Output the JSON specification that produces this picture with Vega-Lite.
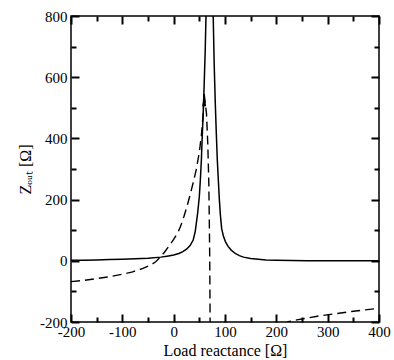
{
  "$schema": "https://vega.github.io/schema/vega-lite/v6.json",
  "width": 308,
  "height": 306,
  "autosize": {"type": "none"},
  "padding": {"left": 71, "top": 16, "right": 15, "bottom": 38},
  "background": "white",
  "config": {
    "view": {"stroke": "black", "strokeWidth": 1.5},
    "font": "Liberation Serif",
    "axis": {
      "grid": false,
      "domain": false,
      "ticks": true,
      "zindex": 2,
      "labelFont": "Liberation Serif",
      "labelFontSize": 15,
      "labelColor": "black",
      "titleFont": "Liberation Serif",
      "titleFontSize": 16,
      "titleFontWeight": "normal",
      "titleColor": "black",
      "tickColor": "#000000",
      "tickOpacity": 1,
      "tickWidth": 2,
      "labelOverlap": false,
      "labelFlush": false
    }
  },
  "datasets": {
    "curves": [
      {"x": -200, "y": 1.5, "s": "R"}, {"x": -175, "y": 2, "s": "R"}, {"x": -150, "y": 3, "s": "R"},
      {"x": -125, "y": 4, "s": "R"}, {"x": -100, "y": 5, "s": "R"}, {"x": -75, "y": 6.5, "s": "R"},
      {"x": -50, "y": 8.5, "s": "R"}, {"x": -25, "y": 12, "s": "R"}, {"x": -10, "y": 16, "s": "R"},
      {"x": 0, "y": 19, "s": "R"}, {"x": 10, "y": 24, "s": "R"}, {"x": 18, "y": 30, "s": "R"},
      {"x": 25, "y": 38, "s": "R"}, {"x": 32, "y": 50, "s": "R"}, {"x": 38, "y": 68, "s": "R"},
      {"x": 42, "y": 95, "s": "R"}, {"x": 47, "y": 160, "s": "R"}, {"x": 50, "y": 210, "s": "R"},
      {"x": 52, "y": 265, "s": "R"}, {"x": 54, "y": 330, "s": "R"}, {"x": 55.5, "y": 400, "s": "R"},
      {"x": 57.5, "y": 480, "s": "R"}, {"x": 59.5, "y": 580, "s": "R"}, {"x": 61.5, "y": 690, "s": "R"},
      {"x": 63, "y": 800, "s": "R"}, {"x": 66, "y": 1000, "s": "R"}, {"x": 70, "y": 1200, "s": "R"},
      {"x": 74, "y": 1000, "s": "R"}, {"x": 77, "y": 800, "s": "R"}, {"x": 79, "y": 640, "s": "R"},
      {"x": 81, "y": 520, "s": "R"}, {"x": 83, "y": 420, "s": "R"}, {"x": 85, "y": 330, "s": "R"},
      {"x": 87, "y": 265, "s": "R"}, {"x": 89, "y": 200, "s": "R"}, {"x": 91, "y": 150, "s": "R"},
      {"x": 93.5, "y": 105, "s": "R"}, {"x": 97, "y": 80, "s": "R"}, {"x": 101, "y": 62, "s": "R"},
      {"x": 106, "y": 47, "s": "R"}, {"x": 112, "y": 35, "s": "R"}, {"x": 120, "y": 24, "s": "R"},
      {"x": 128, "y": 17, "s": "R"}, {"x": 136, "y": 12, "s": "R"}, {"x": 150, "y": 7.5, "s": "R"},
      {"x": 165, "y": 5, "s": "R"}, {"x": 180, "y": 3, "s": "R"}, {"x": 200, "y": 2, "s": "R"},
      {"x": 230, "y": 1, "s": "R"}, {"x": 260, "y": 0.3, "s": "R"}, {"x": 300, "y": 0, "s": "R"},
      {"x": 400, "y": 0, "s": "R"},
      {"x": -200, "y": -68, "s": "X", "p": "a"}, {"x": -175, "y": -64, "s": "X", "p": "a"},
      {"x": -150, "y": -58, "s": "X", "p": "a"}, {"x": -125, "y": -52, "s": "X", "p": "a"},
      {"x": -100, "y": -44, "s": "X", "p": "a"}, {"x": -80, "y": -36, "s": "X", "p": "a"},
      {"x": -60, "y": -25, "s": "X", "p": "a"}, {"x": -45, "y": -14, "s": "X", "p": "a"},
      {"x": -35, "y": -3, "s": "X", "p": "a"}, {"x": -27, "y": 10, "s": "X", "p": "a"},
      {"x": -18, "y": 28, "s": "X", "p": "a"}, {"x": -10, "y": 46, "s": "X", "p": "a"},
      {"x": 0, "y": 70, "s": "X", "p": "a"}, {"x": 8, "y": 92, "s": "X", "p": "a"},
      {"x": 14, "y": 115, "s": "X", "p": "a"}, {"x": 20, "y": 145, "s": "X", "p": "a"},
      {"x": 26, "y": 178, "s": "X", "p": "a"}, {"x": 32, "y": 215, "s": "X", "p": "a"},
      {"x": 38, "y": 255, "s": "X", "p": "a"}, {"x": 44, "y": 298, "s": "X", "p": "a"},
      {"x": 50, "y": 355, "s": "X", "p": "a"}, {"x": 54, "y": 410, "s": "X", "p": "a"},
      {"x": 57, "y": 470, "s": "X", "p": "a"}, {"x": 59.5, "y": 545, "s": "X", "p": "a"},
      {"x": 64, "y": 480, "s": "X", "p": "a"}, {"x": 66.5, "y": 380, "s": "X", "p": "a"},
      {"x": 68.5, "y": 250, "s": "X", "p": "a"}, {"x": 69.5, "y": 120, "s": "X", "p": "a"},
      {"x": 70.3, "y": 0, "s": "X", "p": "a"}, {"x": 71, "y": -210, "s": "X", "p": "a"},
      {"x": 213, "y": -210, "s": "X", "p": "b"}, {"x": 223, "y": -199, "s": "X", "p": "b"},
      {"x": 240, "y": -193, "s": "X", "p": "b"}, {"x": 260, "y": -187, "s": "X", "p": "b"},
      {"x": 280, "y": -181, "s": "X", "p": "b"}, {"x": 311, "y": -174, "s": "X", "p": "b"},
      {"x": 340, "y": -167, "s": "X", "p": "b"}, {"x": 370, "y": -161, "s": "X", "p": "b"},
      {"x": 400, "y": -155, "s": "X", "p": "b"}
    ],
    "arrow": [{"x": 59.5, "y": 526}]
  },
  "layer": [
    {
      "data": {"name": "curves"},
      "transform": [{"filter": "datum.s === 'R'"}],
      "mark": {"type": "line", "color": "black", "strokeWidth": 1.5, "clip": true},
      "encoding": {
        "x": {
          "field": "x", "type": "quantitative",
          "scale": {"domain": [-200, 400], "nice": false, "zero": false},
          "axis": {
            "orient": "bottom",
            "offset": -8,
            "title": "Load reactance [Ω]",
            "titlePadding": 3,
            "values": [-200, -100, 0, 100, 200, 300, 400],
            "labelExpr": "'' + datum.value",
            "tickSize": 8,
            "labelPadding": 2
          }
        },
        "y": {
          "field": "y", "type": "quantitative",
          "scale": {"domain": [-200, 800], "nice": false, "zero": false},
          "axis": {
            "orient": "left",
            "offset": -8,
            "title": "Zₒᵤₜ [Ω]",
            "titlePadding": 6,
            "values": [-200, 0, 200, 400, 600, 800],
            "labelExpr": "'' + datum.value",
            "tickSize": 8,
            "labelPadding": 4
          }
        }
      }
    },
    {
      "data": {"name": "curves"},
      "transform": [{"filter": "datum.s === 'R'"}],
      "mark": {"type": "line", "strokeOpacity": 0, "clip": true},
      "encoding": {
        "x": {
          "field": "x", "type": "quantitative",
          "axis": {"orient": "bottom", "offset": -5, "title": null, "labels": false, "values": [-150, -50, 50, 150, 250, 350], "tickSize": 5}
        },
        "y": {
          "field": "y", "type": "quantitative",
          "axis": {"orient": "left", "offset": -5, "title": null, "labels": false, "values": [-100, 100, 300, 500, 700], "tickSize": 5}
        }
      }
    },
    {
      "data": {"name": "curves"},
      "transform": [{"filter": "datum.s === 'R'"}],
      "mark": {"type": "line", "strokeOpacity": 0, "clip": true},
      "encoding": {
        "x": {
          "field": "x", "type": "quantitative",
          "axis": {"orient": "top", "offset": -8, "title": null, "labels": false, "values": [-200, -100, 0, 100, 200, 300, 400], "tickSize": 8}
        },
        "y": {
          "field": "y", "type": "quantitative",
          "axis": {"orient": "right", "offset": -8, "title": null, "labels": false, "values": [-200, 0, 200, 400, 600, 800], "tickSize": 8}
        }
      }
    },
    {
      "data": {"name": "curves"},
      "transform": [{"filter": "datum.s === 'R'"}],
      "mark": {"type": "line", "strokeOpacity": 0, "clip": true},
      "encoding": {
        "x": {
          "field": "x", "type": "quantitative",
          "axis": {"orient": "top", "offset": -5, "title": null, "labels": false, "values": [-150, -50, 50, 150, 250, 350], "tickSize": 5}
        },
        "y": {
          "field": "y", "type": "quantitative",
          "axis": {"orient": "right", "offset": -5, "title": null, "labels": false, "values": [-100, 100, 300, 500, 700], "tickSize": 5}
        }
      }
    },
    {
      "data": {"name": "curves"},
      "transform": [{"filter": "datum.s === 'X'"}],
      "mark": {"type": "line", "color": "black", "strokeWidth": 1.4, "strokeDash": [9, 5], "clip": true},
      "encoding": {
        "x": {"field": "x", "type": "quantitative", "axis": null},
        "y": {"field": "y", "type": "quantitative", "axis": null},
        "detail": {"field": "p"}
      }
    },
    {
      "data": {"name": "arrow"},
      "mark": {"type": "point", "shape": "M0,-1L0.3,1L-0.3,1Z", "size": 169, "filled": true, "color": "black", "opacity": 1},
      "encoding": {
        "x": {"field": "x", "type": "quantitative", "axis": null},
        "y": {"field": "y", "type": "quantitative", "axis": null}
      }
    }
  ],
  "resolve": {"axis": {"x": "independent", "y": "independent"}}
}
